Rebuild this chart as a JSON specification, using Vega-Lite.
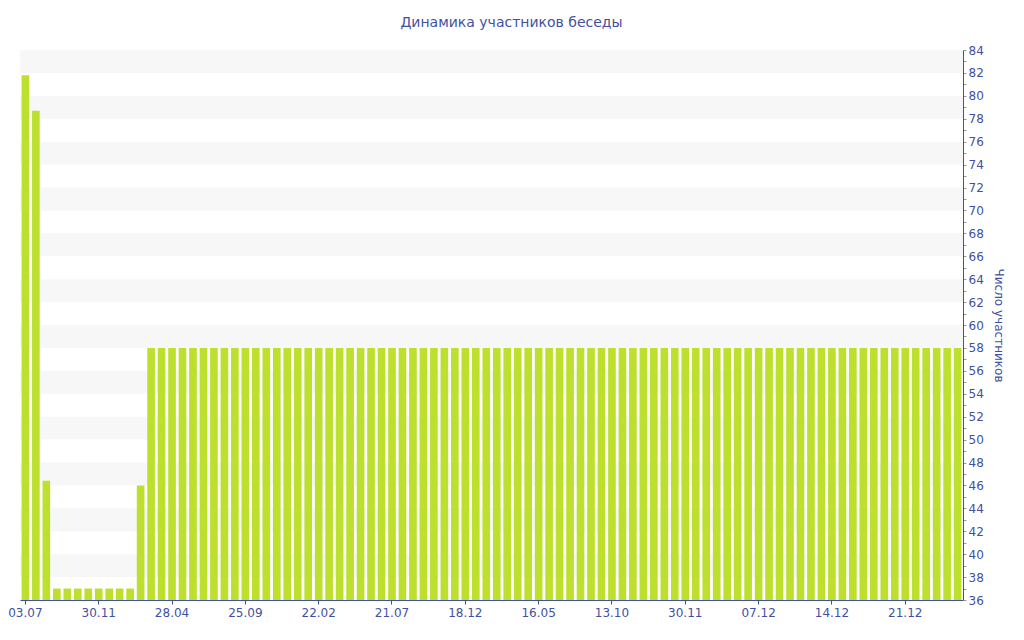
{
  "$schema": "https://vega.github.io/schema/vega-lite/v6.json",
  "width": 943,
  "height": 550,
  "autosize": "none",
  "padding": {"left": 20, "top": 50, "right": 61, "bottom": 40},
  "background": "white",
  "title": {"text": "Динамика участников беседы", "font": "DejaVu Sans", "fontSize": 14, "fontWeight": "normal", "color": "#3f51a0", "offset": 14, "dx": 20},
  "config": {"view": {"stroke": null}, "font": "DejaVu Sans"},
  "layer": [
    {
      "data": {"values": [
        {"lo": 38, "hi": 40}, {"lo": 42, "hi": 44}, {"lo": 46, "hi": 48}, {"lo": 50, "hi": 52},
        {"lo": 54, "hi": 56}, {"lo": 58, "hi": 60}, {"lo": 62, "hi": 64}, {"lo": 66, "hi": 68},
        {"lo": 70, "hi": 72}, {"lo": 74, "hi": 76}, {"lo": 78, "hi": 80}, {"lo": 82, "hi": 84}
      ]},
      "mark": {"type": "rect", "fill": "#f7f7f7"},
      "encoding": {
        "y": {"field": "lo", "type": "quantitative", "scale": {"domain": [36, 84], "zero": false, "nice": false},
          "axis": {"orient": "right", "values": [36,37,38,39,40,41,42,43,44,45,46,47,48,49,50,51,52,53,54,55,56,57,58,59,60,61,62,63,64,65,66,67,68,69,70,71,72,73,74,75,76,77,78,79,80,81,82,83,84],
            "labelExpr": "datum.value % 2 == 0 ? datum.label : ''", "grid": false, "title": "Число участников", "titleAngle": 90,
            "titleColor": "#3f51a0", "titleFontSize": 12, "titleFontWeight": "normal", "titlePadding": 8,
            "labelColor": "#3f51a0", "labelFontSize": 12, "labelPadding": 2, "tickSize": 3, "tickColor": "#999999", "domainColor": "#3f51a0"}},
        "y2": {"field": "hi"}
      }
    },
    {
      "data": {"values": [
        {"i": 0, "v": 81.8}, {"i": 1, "v": 78.7}, {"i": 2, "v": 46.4}, {"i": 3, "v": 37}, {"i": 4, "v": 37},
        {"i": 5, "v": 37}, {"i": 6, "v": 37}, {"i": 7, "v": 37}, {"i": 8, "v": 37}, {"i": 9, "v": 37},
        {"i": 10, "v": 37}, {"i": 11, "v": 46}, {"i": 12, "v": 58}, {"i": 13, "v": 58}, {"i": 14, "v": 58},
        {"i": 15, "v": 58}, {"i": 16, "v": 58}, {"i": 17, "v": 58}, {"i": 18, "v": 58}, {"i": 19, "v": 58},
        {"i": 20, "v": 58}, {"i": 21, "v": 58}, {"i": 22, "v": 58}, {"i": 23, "v": 58}, {"i": 24, "v": 58},
        {"i": 25, "v": 58}, {"i": 26, "v": 58}, {"i": 27, "v": 58}, {"i": 28, "v": 58}, {"i": 29, "v": 58},
        {"i": 30, "v": 58}, {"i": 31, "v": 58}, {"i": 32, "v": 58}, {"i": 33, "v": 58}, {"i": 34, "v": 58},
        {"i": 35, "v": 58}, {"i": 36, "v": 58}, {"i": 37, "v": 58}, {"i": 38, "v": 58}, {"i": 39, "v": 58},
        {"i": 40, "v": 58}, {"i": 41, "v": 58}, {"i": 42, "v": 58}, {"i": 43, "v": 58}, {"i": 44, "v": 58},
        {"i": 45, "v": 58}, {"i": 46, "v": 58}, {"i": 47, "v": 58}, {"i": 48, "v": 58}, {"i": 49, "v": 58},
        {"i": 50, "v": 58}, {"i": 51, "v": 58}, {"i": 52, "v": 58}, {"i": 53, "v": 58}, {"i": 54, "v": 58},
        {"i": 55, "v": 58}, {"i": 56, "v": 58}, {"i": 57, "v": 58}, {"i": 58, "v": 58}, {"i": 59, "v": 58},
        {"i": 60, "v": 58}, {"i": 61, "v": 58}, {"i": 62, "v": 58}, {"i": 63, "v": 58}, {"i": 64, "v": 58},
        {"i": 65, "v": 58}, {"i": 66, "v": 58}, {"i": 67, "v": 58}, {"i": 68, "v": 58}, {"i": 69, "v": 58},
        {"i": 70, "v": 58}, {"i": 71, "v": 58}, {"i": 72, "v": 58}, {"i": 73, "v": 58}, {"i": 74, "v": 58},
        {"i": 75, "v": 58}, {"i": 76, "v": 58}, {"i": 77, "v": 58}, {"i": 78, "v": 58}, {"i": 79, "v": 58},
        {"i": 80, "v": 58}, {"i": 81, "v": 58}, {"i": 82, "v": 58}, {"i": 83, "v": 58}, {"i": 84, "v": 58},
        {"i": 85, "v": 58}, {"i": 86, "v": 58}, {"i": 87, "v": 58}, {"i": 88, "v": 58}, {"i": 89, "v": 58}
      ]},
      "mark": {"type": "bar", "color": "#bde02e"},
      "encoding": {
        "x": {"field": "i", "type": "ordinal", "scale": {"paddingInner": 0.27, "paddingOuter": 0.15},
          "axis": {"values": [0,7,14,21,28,35,42,49,56,63,70,77,84],
            "labelExpr": "['03.07','30.11','28.04','25.09','22.02','21.07','18.12','16.05','13.10','30.11','07.12','14.12','21.12'][datum.value / 7]",
            "labelAngle": 0, "title": null, "grid": false, "labelColor": "#3f51a0", "labelFontSize": 12, "labelPadding": 3,
            "tickColor": "#3f51a0", "tickSize": 4, "domainColor": "#3f51a0"}},
        "y": {"field": "v", "type": "quantitative", "scale": {"domain": [36, 84], "zero": false, "nice": false},
          "axis": {"orient": "right", "values": [36,37,38,39,40,41,42,43,44,45,46,47,48,49,50,51,52,53,54,55,56,57,58,59,60,61,62,63,64,65,66,67,68,69,70,71,72,73,74,75,76,77,78,79,80,81,82,83,84],
            "labelExpr": "datum.value % 2 == 0 ? datum.label : ''", "grid": false, "title": "Число участников", "titleAngle": 90,
            "titleColor": "#3f51a0", "titleFontSize": 12, "titleFontWeight": "normal", "titlePadding": 8,
            "labelColor": "#3f51a0", "labelFontSize": 12, "labelPadding": 2, "tickSize": 3, "tickColor": "#999999", "domainColor": "#3f51a0"}},
        "y2": {"datum": 36}
      }
    }
  ]
}
